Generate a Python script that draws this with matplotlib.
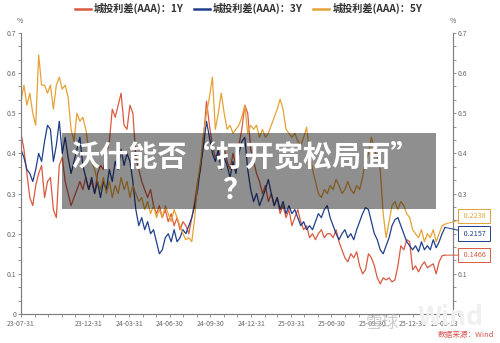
import numpy as np
import pandas as pd
import matplotlib
matplotlib.use("Agg")
import matplotlib.pyplot as plt
from matplotlib.lines import Line2D
from matplotlib.patches import Rectangle

plt.rcParams['font.family'] = ['Noto Sans CJK SC', 'DejaVu Sans']

# 城投利差 (AAA), %
start, end = '2023-07-31', '2026-03-13'

spread_1y = [
    0.45, 0.41, 0.35, 0.29, 0.27, 0.32, 0.35, 0.37, 0.29, 0.33,
    0.34, 0.26, 0.24, 0.37, 0.39, 0.33, 0.30, 0.27, 0.29, 0.31,
    0.33, 0.31, 0.34, 0.31, 0.33, 0.30, 0.35, 0.37, 0.36, 0.40,
    0.43, 0.51, 0.49, 0.52, 0.55, 0.47, 0.46, 0.52, 0.50, 0.39,
    0.36, 0.33, 0.31, 0.29, 0.31, 0.27, 0.25, 0.27, 0.24, 0.26,
    0.23, 0.25, 0.22, 0.24, 0.21, 0.23, 0.22, 0.20, 0.24, 0.28,
    0.33, 0.36, 0.44, 0.53, 0.47, 0.42, 0.39, 0.40, 0.37, 0.41,
    0.38, 0.36, 0.40, 0.37, 0.42, 0.46, 0.52, 0.50, 0.41, 0.38,
    0.35, 0.33, 0.30, 0.32, 0.28, 0.30, 0.27, 0.29, 0.25, 0.27,
    0.24, 0.26, 0.22, 0.24, 0.26, 0.23, 0.21, 0.22, 0.19, 0.20,
    0.185, 0.20, 0.21, 0.19, 0.20, 0.20, 0.19, 0.21, 0.18, 0.16,
    0.14, 0.13, 0.15, 0.14, 0.155, 0.12, 0.10, 0.11, 0.15, 0.14,
    0.12, 0.09, 0.075, 0.09, 0.085, 0.09, 0.08, 0.085, 0.12, 0.17,
    0.16, 0.185, 0.18, 0.11, 0.12, 0.105, 0.12, 0.13, 0.115, 0.12,
    0.125, 0.10, 0.13, 0.145, 0.1466,
]

spread_3y = [
    0.41, 0.39, 0.36, 0.35, 0.33, 0.36, 0.40, 0.38, 0.43, 0.47,
    0.46, 0.38, 0.42, 0.48, 0.40, 0.44, 0.39, 0.35, 0.38, 0.41,
    0.44, 0.37, 0.34, 0.31, 0.34, 0.30, 0.33, 0.29, 0.33, 0.31,
    0.36, 0.33, 0.38, 0.36, 0.41, 0.37, 0.40, 0.38, 0.33, 0.26,
    0.22, 0.24, 0.21, 0.23, 0.20, 0.21, 0.18, 0.15, 0.16, 0.19,
    0.20, 0.18, 0.21, 0.18, 0.19, 0.21, 0.20, 0.22, 0.24, 0.27,
    0.31, 0.37, 0.42, 0.48, 0.44, 0.40, 0.38, 0.41, 0.36, 0.39,
    0.37, 0.34, 0.38, 0.35, 0.40, 0.43, 0.44, 0.36, 0.31, 0.28,
    0.30, 0.27, 0.29, 0.31, 0.335, 0.30, 0.27, 0.29, 0.26, 0.28,
    0.25, 0.27, 0.25, 0.26, 0.24, 0.22, 0.23, 0.21, 0.22, 0.21,
    0.23, 0.25, 0.24, 0.26, 0.27, 0.24, 0.22, 0.20, 0.185, 0.20,
    0.21, 0.19, 0.20, 0.185, 0.21, 0.23, 0.25, 0.265, 0.26, 0.23,
    0.20, 0.185, 0.16, 0.15, 0.17, 0.19, 0.22, 0.235, 0.24, 0.22,
    0.20, 0.18, 0.17, 0.16, 0.17, 0.155, 0.18, 0.16, 0.17, 0.16,
    0.185, 0.165, 0.18, 0.20, 0.2157,
]

spread_5y = [
    0.53, 0.57, 0.52, 0.55, 0.50, 0.47, 0.645, 0.57, 0.57, 0.55,
    0.57, 0.51, 0.57, 0.59, 0.56, 0.57, 0.54, 0.46, 0.43, 0.50,
    0.48, 0.49, 0.46, 0.41, 0.38, 0.36, 0.33, 0.31, 0.34, 0.30,
    0.33, 0.29, 0.32, 0.30, 0.34, 0.31, 0.33, 0.29, 0.32, 0.30,
    0.28, 0.29, 0.26, 0.28, 0.25, 0.27, 0.24, 0.26, 0.24, 0.27,
    0.25, 0.23, 0.26, 0.24, 0.22, 0.20, 0.185, 0.19, 0.18, 0.24,
    0.33, 0.38, 0.45, 0.50, 0.54, 0.59, 0.46, 0.50, 0.55, 0.50,
    0.46, 0.47, 0.45, 0.46, 0.47, 0.49, 0.52, 0.45, 0.47, 0.46,
    0.47, 0.44, 0.46, 0.44, 0.45, 0.47, 0.49, 0.51, 0.535, 0.51,
    0.46, 0.45, 0.44, 0.45, 0.43, 0.42, 0.44, 0.465, 0.40, 0.36,
    0.33, 0.30, 0.29, 0.31, 0.30, 0.32, 0.31, 0.335, 0.32, 0.30,
    0.31, 0.33, 0.31, 0.30, 0.32, 0.31, 0.34, 0.38, 0.40, 0.44,
    0.41, 0.39, 0.36, 0.25, 0.19, 0.23, 0.27, 0.28, 0.26, 0.28,
    0.27, 0.25, 0.24, 0.21, 0.20, 0.19, 0.21, 0.18, 0.20, 0.19,
    0.21, 0.18, 0.20, 0.22, 0.2238,
]

series_names = ['城投利差(AAA)：1Y', '城投利差(AAA)：3Y', '城投利差(AAA)：5Y']
series_colors = ['#D95A40', '#203F8C', '#E6A236']

date_labels = ['23-07-31', '23-12-31', '24-03-31', '24-06-30', '24-09-30',
               '24-12-31', '25-03-31', '25-06-30', '25-09-30', '25-12-31',
               '26-03-13']
y_ticks = [0, 0.1, 0.2, 0.3, 0.4, 0.5, 0.6, 0.7]
y_labels = ['0', '0.1', '0.2', '0.3', '0.4', '0.5', '0.6', '0.7']

dates = pd.date_range(start, end, periods=len(spread_1y))

fig = plt.figure(figsize=(5.0, 3.43), dpi=100)
ax = fig.add_axes([0.042, 0.0845, 0.864, 0.8195])

for vals, name, col in zip([spread_1y, spread_3y, spread_5y],
                           series_names, series_colors):
    ax.plot(dates, vals, color=col, lw=0.9, label=name)

ax.set_xlim(pd.Timestamp(start), pd.Timestamp(end))
ax.set_ylim(0, 0.7)

axis_grey = '#808080'
label_grey = '#666666'

ax2 = ax.twinx()
ax2.set_ylim(0, 0.7)
for a in (ax, ax2):
    a.set_yticks(y_ticks)
    a.set_yticks(np.arange(0, 0.7001, 0.1 / 3), minor=True)
    a.set_yticklabels(y_labels)
    a.tick_params(axis='y', which='both', colors=axis_grey, labelcolor=label_grey,
                  labelsize=5, length=2.5, width=0.6, pad=1)
    a.spines['top'].set_visible(False)
    for s in ('left', 'right', 'bottom'):
        a.spines[s].set_color(axis_grey)
        a.spines[s].set_linewidth(0.8)

major_dates = [pd.Timestamp('20' + d) for d in date_labels]
ax.set_xticks(major_dates)
ax.set_xticklabels(date_labels)
ax.set_xticks(pd.date_range(start, '2026-03-31', freq='ME'), minor=True)
ax.tick_params(axis='x', which='both', colors=axis_grey, labelcolor=label_grey,
               labelsize=5, length=2.5, width=0.6, pad=1.5)

fig.text(0.04, 0.932, '%', fontsize=5, color=label_grey, ha='center')
fig.text(0.905, 0.932, '%', fontsize=5, color=label_grey, ha='center')

# legend with thicker sample lines
legend_handles = [Line2D([], [], color=c, lw=1.8) for c in series_colors]
fig.legend(legend_handles, series_names, loc='center',
           bbox_to_anchor=(0.497, 0.974), ncol=3, frameon=False,
           handlelength=1.6, handletextpad=0.3, columnspacing=1.0,
           borderaxespad=0, prop={'size': 7.3, 'weight': 'bold'},
           labelcolor='#333333')

# latest value callouts on the right
last_vals = [spread_1y[-1], spread_3y[-1], spread_5y[-1]]
offsets = [(12, 0), (12, -4.5), (12, 6)]
for v, col, off in zip(last_vals, series_colors, offsets):
    ax2.annotate(f' {v:.4f} ', xy=(dates[-1], v), xytext=off,
                 textcoords='offset points', ha='left', va='center',
                 fontsize=5.2, color=col, annotation_clip=False,
                 bbox=dict(boxstyle='square,pad=0.45', fc='white', ec=col, lw=0.7),
                 arrowprops=dict(arrowstyle='-', color=col, lw=0.7,
                                 shrinkA=0, shrinkB=0))

# watermark and source
fig.text(0.765, 0.058, '雪球', fontsize=12, color='#b5b5b5', alpha=0.7,
         ha='center', va='center')
fig.text(0.90, 0.075, 'Wind', fontsize=19, color='#f0f0f0',
         fontweight='bold', ha='center', va='center', zorder=0)
fig.text(0.932, 0.022, '数据来源：Wind', fontsize=5.5, color='#D9534F',
         ha='center', va='center')

# headline banner
fig.patches.append(Rectangle((0.124, 0.3907), 0.748, 0.2216,
                             transform=fig.transFigure, facecolor='black',
                             alpha=0.44, edgecolor='none', zorder=5))
fig.text(0.49, 0.545, '沃什能否“打开宽松局面”', fontsize=21, color='white',
         fontweight='bold', ha='center', va='center', zorder=6)
fig.text(0.474, 0.446, '？', fontsize=21, color='white',
         fontweight='bold', ha='center', va='center', zorder=6)

fig.savefig('out.png', dpi=100)
